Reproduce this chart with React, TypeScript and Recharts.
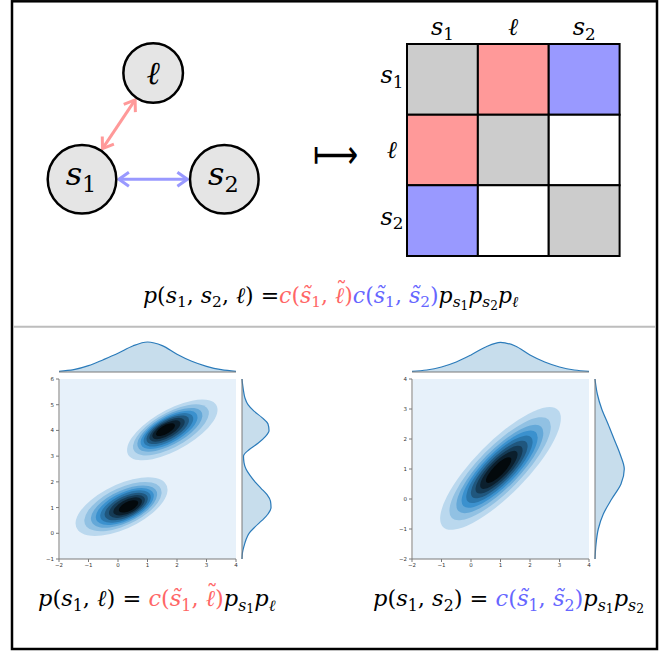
import { ComposedChart, ScatterChart, Scatter, Area, XAxis, YAxis, ReferenceArea, ReferenceLine } from 'recharts'

// factor graph: nodes and the copula edges between them
const NODES = [
  { id: 'l', x: 1, y: 1 },
  { id: 's1', x: 0, y: 0 },
  { id: 's2', x: 2, y: 0 },
]
const EDGES = [
  { from: 's1', to: 'l', kind: 'red' },
  { from: 's1', to: 's2', kind: 'blue' },
]

// copula matrix
const VARS = ['s1', 'l', 's2']
const CELLS = [
  ['self', 'red', 'blue'],
  ['red', 'self', 'none'],
  ['blue', 'none', 'self'],
]
const MATRIX_EDGES = [0, 1, 2, 3]
const MATRIX_TICKS = [0.5, 1.5, 2.5]

// joint plot ticks
const X_TICKS = [-2, -1, 0, 1, 2, 3, 4]
const LEFT_Y_TICKS = [-1, 0, 1, 2, 3, 4, 5, 6]
const RIGHT_Y_TICKS = [-2, -1, 0, 1, 2, 3, 4]

// marginal densities
const TOP_GRID = [-2, -1.5, -1, -0.5, 0, 0.5, 1, 1.5, 2, 2.5, 3, 3.5, 4]
const LEFT_TOP = [0.009, 0.029, 0.079, 0.154, 0.234, 0.325, 0.375, 0.33, 0.222, 0.134, 0.071, 0.029, 0.009]
const RIGHT_TOP = [0.009, 0.025, 0.063, 0.125, 0.213, 0.313, 0.371, 0.325, 0.213, 0.125, 0.063, 0.025, 0.009]
const LEFT_SIDE_GRID = [-1, -0.75, -0.5, -0.25, 0, 0.25, 0.5, 0.75, 1, 1.25, 1.5, 1.75, 2, 2.25, 2.5, 2.75, 3, 3.25, 3.5, 3.75, 4, 4.25, 4.5, 4.75, 5, 5.25, 5.5, 5.75, 6]
const LEFT_SIDE = [0, 0.006, 0.025, 0.05, 0.088, 0.163, 0.25, 0.325, 0.363, 0.356, 0.313, 0.238, 0.163, 0.1, 0.05, 0.025, 0.019, 0.088, 0.2, 0.288, 0.338, 0.325, 0.25, 0.15, 0.075, 0.038, 0.021, 0.009, 0]
const RIGHT_SIDE_GRID = [-2, -1.5, -1, -0.5, 0, 0.5, 1, 1.5, 2, 2.5, 3, 3.5, 4]
const RIGHT_SIDE = [0, 0.013, 0.041, 0.104, 0.209, 0.325, 0.366, 0.313, 0.238, 0.163, 0.084, 0.029, 0]

// filled kde levels: relative size of each band, outer to inner
const LEVELS = [1, 0.84, 0.72, 0.63, 0.55, 0.47, 0.39, 0.31, 0.21]
// kde blobs: outer centre, mode, and two half-axis vectors (data units)
const LEFT_BLOBS = [
  { cx: 0.12, cy: 1.035, mx: 0.42, my: 1.05, ax: 1.47, ay: 0.93, bx: -0.52, by: 0.66 },
  { cx: 1.84, cy: 4.02, mx: 1.55, my: 4.03, ax: 1.45, ay: 1.03, bx: -0.5, by: 0.58 },
]
const RIGHT_BLOBS = [
  { cx: 1.0, cy: 1.02, mx: 0.92, my: 0.95, ax: 1.95, ay: 1.95, bx: -0.62, by: 0.62 },
]

const BAND_COLORS = ['#bad8ee', '#91c1e3', '#64a8d8', '#3b91ce', '#2b76ab', '#20577e', '#153b56', '#0b1f2d', '#03090c']
const BG = '#e7f1fa'
const KIND_COLOR: any = { self: '#cccccc', red: '#ff9999', blue: '#9999ff', none: '#ffffff' }
const RED_TXT = '#ff6666'
const BLUE_TXT = '#6666ff'
const NODE_R: any = { l: 29.8, s1: 34.3, s2: 34.3 }
const SERIF = "'DejaVu Serif', serif"
const SPINE = '#7a7a7a'

// tiny tex-ish markup: _x or _{...} for subscripts, letters in italic
type Run = { t: string; lv: number; it: boolean }
const parseTex = (src: string, lv = 0): Run[] => {
  const out: Run[] = []
  const grab = (k: number) => {
    let j = k + 1
    while (j < src.length && /[\u0300-\u036f]/.test(src[j])) j++
    return j
  }
  let i = 0
  while (i < src.length) {
    if (src[i] === '_') {
      if (src[i + 1] === '{') {
        let depth = 1
        let j = i + 2
        while (j < src.length && depth) {
          if (src[j] === '{') depth++
          else if (src[j] === '}') depth--
          j++
        }
        out.push(...parseTex(src.slice(i + 2, j - 1), lv + 1))
        i = j
      } else {
        const j = grab(i + 1)
        out.push(...parseTex(src.slice(i + 1, j), lv + 1))
        i = j
      }
    } else {
      const j = grab(i)
      const t = src.slice(i, j)
      out.push({ t, lv, it: /[a-zℓ]/.test(t[0]) })
      i = j
    }
  }
  return out
}

const SUB_SCALE = [1, 0.7, 0.55]
const SUB_SHIFT = [0, 0.2, 0.33]

const mathSpans = (parts: [string, string][], size: number) => {
  let cur = 0
  let padX = 0
  let padY = 0
  const spans: any[] = []
  parts.forEach(([src, color], pi) => {
    parseTex(src).forEach((r, ri) => {
      const fs = size * SUB_SCALE[r.lv]
      const target = SUB_SHIFT[r.lv] * size
      const dy = target - cur + padY
      const dx = padX
      cur = target
      padX = 0
      padY = 0
      const style = { fontSize: fs, fontStyle: r.it ? 'italic' : 'normal', fill: color }
      if (r.t === 'ℓ\u0303') {
        // ℓ has no mark anchor in the font, so the tilde is set by hand
        const wl = 0.42 * fs
        const wt = 0.5 * fs
        const lift = 0.24 * fs
        spans.push(<tspan key={`${pi}-${ri}`} dx={dx || undefined} dy={dy || undefined} {...style}>ℓ</tspan>)
        spans.push(<tspan key={`${pi}-${ri}a`} dx={-(wl + wt) / 2 + 0.08 * fs} dy={-lift} {...style} fontStyle="normal">˜</tspan>)
        padX = (wl - wt) / 2 - 0.08 * fs
        padY = lift
        return
      }
      spans.push(<tspan key={`${pi}-${ri}`} dx={dx || undefined} dy={dy || undefined} {...style}>{r.t}</tspan>)
    })
  })
  return spans
}

const Formula = ({ x, y, size, parts, anchor = 'start' }: any) => (
  <text x={x} y={y} fontFamily={SERIF} textAnchor={anchor} style={{ whiteSpace: 'pre' }}>
    {mathSpans(parts, size)}
  </text>
)

const varTex = (id: string) => (id === 'l' ? 'ℓ' : `s_${id.slice(1)}`)

const minus = (v: number) => String(v).replace('-', '\u2212')

// double headed arrow between two node centres, trimmed to the circles
const Arrow = ({ x1, y1, x2, y2, color, r1, r2 }: any) => {
  const len = Math.hypot(x2 - x1, y2 - y1)
  const ux = (x2 - x1) / len
  const uy = (y2 - y1) / len
  const ax = x1 + ux * r1
  const ay = y1 + uy * r1
  const bx = x2 - ux * r2
  const by = y2 - uy * r2
  const L = 10
  const W = 7
  const head = (px: number, py: number, dx: number, dy: number) =>
    `M${px - dx * L - dy * W},${py - dy * L + dx * W} L${px},${py} L${px - dx * L + dy * W},${py - dy * L - dx * W}`
  return (
    <g stroke={color} strokeWidth={3} fill="none" strokeLinejoin="round">
      <line x1={ax + ux * 1.5} y1={ay + uy * 1.5} x2={bx - ux * 1.5} y2={by - uy * 1.5} />
      <path d={head(bx, by, ux, uy)} />
      <path d={head(ax, ay, -ux, -uy)} />
    </g>
  )
}

const NodeShape = ({ cx, cy, payload }: any) => {
  const r = NODE_R[payload.id]
  const isL = payload.id === 'l'
  return (
    <g>
      <circle cx={cx} cy={cy} r={r} fill="#e5e5e5" stroke="#000" strokeWidth={2.5} />
      <Formula x={isL ? cx : cx - 1} y={cy + (isL ? 11 : 6)} size={32} anchor="middle"
        parts={[[varTex(payload.id), '#000']]} />
    </g>
  )
}

const FactorGraph = () => {
  const byId: any = Object.fromEntries(NODES.map((n) => [n.id, n]))
  return (
    <ScatterChart width={222.3} height={186.3} margin={{ top: 40, right: 40, bottom: 40, left: 40 }}>
      <XAxis type="number" dataKey="x" domain={[0, 2]} hide />
      <YAxis type="number" dataKey="y" domain={[0, 1]} hide />
      {EDGES.map((e) => (
        <ReferenceLine key={e.from + e.to} ifOverflow="visible"
          segment={[{ x: byId[e.from].x, y: byId[e.from].y }, { x: byId[e.to].x, y: byId[e.to].y }]}
          shape={(p: any) => (
            <Arrow {...p} color={KIND_COLOR[e.kind]} r1={NODE_R[e.from] + 2.6} r2={NODE_R[e.to] + 2.6} />
          )} />
      ))}
      <Scatter data={NODES} shape={NodeShape} isAnimationActive={false} />
    </ScatterChart>
  )
}

const MatrixTick = ({ x, y, payload, side }: any) => {
  const id = VARS[Math.floor(payload.value)]
  const isL = id === 'l'
  if (side === 'top') {
    return <Formula x={x} y={y - 9} size={24} anchor="middle" parts={[[varTex(id), '#000']]} />
  }
  return <Formula x={x - 15} y={y + (isL ? 8 : 4)} size={24} anchor="middle" parts={[[varTex(id), '#000']]} />
}

const CopulaMatrix = () => (
  <ComposedChart width={246.6} height={260} data={MATRIX_EDGES.map((v) => ({ v }))}
    margin={{ top: 24, right: 4, bottom: 4, left: 0 }}>
    <XAxis type="number" dataKey="v" orientation="top" domain={[0, 3]} allowDataOverflow ticks={MATRIX_TICKS}
      interval={0} height={20} axisLine={false} tickLine={false} tickSize={0} tickMargin={0}
      tick={<MatrixTick side="top" />} />
    <YAxis type="number" reversed domain={[0, 3]} allowDataOverflow ticks={MATRIX_TICKS} interval={0} width={30}
      axisLine={false} tickLine={false} tickSize={0} tickMargin={0} tick={<MatrixTick side="left" />} />
    {CELLS.flatMap((row, r) =>
      row.map((kind, c) => (
        <ReferenceArea key={`${r}-${c}`} x1={c} x2={c + 1} y1={r} y2={r + 1} ifOverflow="visible"
          fill={KIND_COLOR[kind]} fillOpacity={1} stroke="#000" strokeWidth={2} />
      ))
    )}
  </ComposedChart>
)

// one filled ellipse, placed through the axis scales via its bounding box
const Blob = ({ x, y, width, height, ex, ey, b, s, color }: any) => {
  const sx = width / (2 * ex)
  const sy = height / (2 * ey)
  const m = [b.ax * s * sx, -b.ay * s * sy, b.bx * s * sx, -b.by * s * sy, x + width / 2, y + height / 2]
  return <ellipse cx={0} cy={0} rx={1} ry={1} fill={color} transform={`matrix(${m.join(' ')})`} />
}

const axisTick = { fontSize: 5.5, fill: '#333', fontFamily: 'DejaVu Sans' }

const JointMain = ({ blobs, yTicks }: any) => {
  const yDom = [yTicks[0], yTicks[yTicks.length - 1]]
  return (
    <ComposedChart width={212} height={204} data={X_TICKS.map((x) => ({ x }))}
      margin={{ top: 8, right: 6, left: 0, bottom: 0 }}>
      <XAxis type="number" dataKey="x" domain={[-2, 4]} ticks={X_TICKS} interval={0} allowDataOverflow height={16}
        tickSize={3} tickMargin={1} stroke={SPINE} tick={axisTick} tickFormatter={minus} />
      <YAxis type="number" domain={yDom} ticks={yTicks} interval={0} allowDataOverflow width={29}
        tickSize={3} tickMargin={2} stroke={SPINE} tick={axisTick} tickFormatter={minus} />
      <ReferenceArea x1={-1.97} x2={4} y1={yDom[0]} y2={yDom[1]} fill={BG} fillOpacity={1} stroke="none" ifOverflow="visible" />
      {LEVELS.flatMap((s, k) =>
        blobs.map((b: any, j: number) => {
          const cx = b.mx + s * (b.cx - b.mx)
          const cy = b.my + s * (b.cy - b.my)
          const ex = Math.hypot(b.ax, b.bx) * s
          const ey = Math.hypot(b.ay, b.by) * s
          return (
            <ReferenceArea key={`${k}-${j}`} x1={cx - ex} x2={cx + ex} y1={cy - ey} y2={cy + ey} ifOverflow="visible"
              shape={(p: any) => <Blob {...p} ex={ex} ey={ey} b={b} s={s} color={BAND_COLORS[k]} />} />
          )
        })
      )}
    </ComposedChart>
  )
}

const TopMarginal = ({ values }: any) => (
  <ComposedChart width={177} height={37} data={TOP_GRID.map((x, i) => ({ x, d: values[i] }))}
    margin={{ top: 0, right: 0, left: 0, bottom: 0 }}>
    <XAxis type="number" dataKey="x" domain={[-2, 4]} ticks={X_TICKS} interval={0} height={5}
      tick={false} tickSize={3} stroke={SPINE} />
    <YAxis type="number" domain={[0, 0.4]} hide />
    <Area type="monotone" dataKey="d" stroke="#2b7bba" strokeWidth={1.2} fill="#1f77b4" fillOpacity={0.25}
      isAnimationActive={false} />
  </ComposedChart>
)

const SideMarginal = ({ grid, values, ticks }: any) => (
  <ComposedChart layout="vertical" width={39} height={180} data={grid.map((y: number, i: number) => ({ y, d: values[i] }))}
    margin={{ top: 0, right: 2, left: 0, bottom: 0 }}>
    <XAxis type="number" domain={[0, 0.4]} hide />
    <YAxis type="number" dataKey="y" reversed domain={[ticks[0], ticks[ticks.length - 1]]} ticks={ticks} interval={0}
      width={5} tick={false} tickSize={3} stroke={SPINE} />
    <Area type="monotone" dataKey="d" stroke="#2b7bba" strokeWidth={1.2} fill="#1f77b4" fillOpacity={0.25}
      isAnimationActive={false} />
  </ComposedChart>
)

const at = (left: number, top: number, child: any) => (
  <div style={{ position: 'absolute', left, top }}>{child}</div>
)

export default function App() {
  return (
    <div style={{ position: 'absolute', left: 0, top: 0, width: 664, height: 651, background: '#fff' }}>
      <svg width={664} height={651} style={{ position: 'absolute', left: 0, top: 0 }}>
        <rect x={12} y={1.3} width={645} height={647.7} fill="none" stroke="#000" strokeWidth={2.5} />
        <line x1={13} x2={656} y1={326.7} y2={326.7} stroke="#bdbdbd" strokeWidth={2} />
        <text x={313} y={168} fontFamily="'DejaVu Sans'" fontWeight={200} fontSize={40} textLength={45}
          lengthAdjust="spacingAndGlyphs">⟼</text>
        <Formula x={143} y={303} size={22}
          parts={[['p(s_1, s_2, ℓ) =', '#000'], ['c(s̃_1, ℓ̃)', RED_TXT], ['c(s̃_1, s̃_2)', BLUE_TXT], ['p_{s_1}p_{s_2}p_ℓ', '#000']]} />
        <Formula x={38} y={606} size={22.5}
          parts={[['p(s_1, ℓ) = ', '#000'], ['c(s̃_1, ℓ̃)', RED_TXT], ['p_{s_1}p_ℓ', '#000']]} />
        <Formula x={373} y={606} size={22.5}
          parts={[['p(s_1, s_2) = ', '#000'], ['c(s̃_1, s̃_2)', BLUE_TXT], ['p_{s_1}p_{s_2}', '#000']]} />
      </svg>
      {at(41.7, 32.7, <FactorGraph />)}
      {at(376.7, 0, <CopulaMatrix />)}
      {at(29.7, 371.3, <JointMain blobs={LEFT_BLOBS} yTicks={LEFT_Y_TICKS} />)}
      {at(383.3, 371.3, <JointMain blobs={RIGHT_BLOBS} yTicks={RIGHT_Y_TICKS} />)}
      {at(58.7, 340.3, <TopMarginal values={LEFT_TOP} />)}
      {at(412.3, 340.3, <TopMarginal values={RIGHT_TOP} />)}
      {at(236.7, 379.3, <SideMarginal grid={LEFT_SIDE_GRID} values={LEFT_SIDE} ticks={LEFT_Y_TICKS} />)}
      {at(590, 379.3, <SideMarginal grid={RIGHT_SIDE_GRID} values={RIGHT_SIDE} ticks={RIGHT_Y_TICKS} />)}
    </div>
  )
}
